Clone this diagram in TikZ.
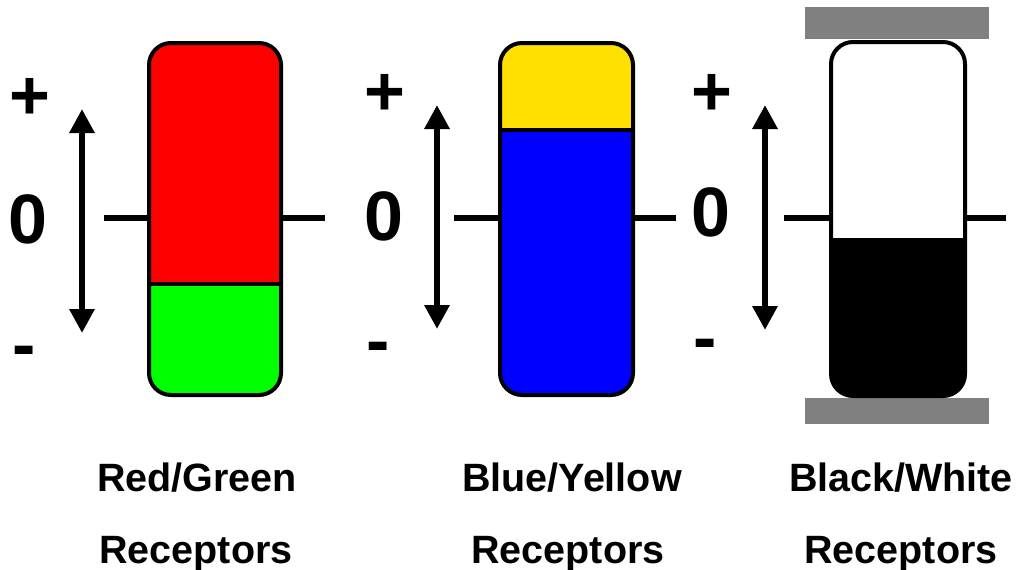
\documentclass[tikz,border=0pt]{standalone}
\usepackage{fontspec}
\setmainfont{Liberation Sans}
\usetikzlibrary{arrows.meta}
\definecolor{rgred}{HTML}{FF0000}
\definecolor{rggreen}{HTML}{00FF00}
\definecolor{byblue}{HTML}{0000FF}
\definecolor{byyellow}{HTML}{FFE000}
\definecolor{bwgray}{HTML}{808080}
\tikzset{
  sign/.style={font=\fontsize{70}{72}\selectfont\bfseries, inner sep=0pt, anchor=base},
  label/.style={font=\fontsize{39.5}{44}\selectfont\bfseries, inner sep=0pt, anchor=base},
  zeroline/.style={line width=6pt},
  barborder/.style={line width=4pt},
  scalearrow/.style={line width=6pt, {Triangle[width=24pt,length=24pt]}-{Triangle[width=24pt,length=24pt]}},
}
\begin{document}
\begin{tikzpicture}[x=1pt,y=-1pt]
\useasboundingbox (0,0) rectangle (1017,570);

% ---------- Panel 1: Red/Green ----------
\coordinate (l1a) at (104,218);
\coordinate (l1b) at (325,218);
\draw[zeroline] (l1a) -- (l1b);
\begin{scope}
\clip[rounded corners=22pt] (149,43) rectangle (281,395);
\fill[rgred] (149,43) rectangle (281,284);
\fill[rggreen] (149,284) rectangle (281,395);
\end{scope}
\coordinate (d1a) at (149,284);
\coordinate (d1b) at (281,284);
\draw[barborder] (d1a) -- (d1b);
\draw[barborder, rounded corners=22pt] (149,43) rectangle (281,395);
\coordinate (a1t) at (82,109);
\coordinate (a1b) at (82,333);
\draw[scalearrow] (a1b) -- (a1t);
\node[sign] (plus1) at (30,119) {+};
\node[sign] (zero1) at (28,243) {0};
\node[sign] (minus1) at (24,368) {-};
\node[label] (lab1a) at (197,491) {Red/Green};
\node[label] (lab1b) at (196,563) {Receptors};

% ---------- Panel 2: Blue/Yellow ----------
\coordinate (l2a) at (454,218);
\coordinate (l2b) at (676,218);
\draw[zeroline] (l2a) -- (l2b);
\begin{scope}
\clip[rounded corners=22pt] (500,43) rectangle (633,395);
\fill[byyellow] (500,43) rectangle (633,130);
\fill[byblue] (500,130) rectangle (633,395);
\end{scope}
\coordinate (d2a) at (500,130);
\coordinate (d2b) at (633,130);
\draw[barborder] (d2a) -- (d2b);
\draw[barborder, rounded corners=22pt] (500,43) rectangle (633,395);
\coordinate (a2t) at (437,105);
\coordinate (a2b) at (437,329);
\draw[scalearrow] (a2b) -- (a2t);
\node[sign] (plus2) at (385,115) {+};
\node[sign] (zero2) at (384,240) {0};
\node[sign] (minus2) at (378,364) {-};
\node[label] (lab2a) at (572,491) {Blue/Yellow};
\node[label] (lab2b) at (568,563) {Receptors};

% ---------- Panel 3: Black/White ----------
\fill[bwgray] (805,7) rectangle (989,39);
\fill[bwgray] (805,398) rectangle (989,424);
\coordinate (l3a) at (784,218);
\coordinate (l3b) at (1006,218);
\draw[zeroline] (l3a) -- (l3b);
\begin{scope}
\clip[rounded corners=22pt] (831,42) rectangle (965,396);
\fill[white] (831,42) rectangle (965,238);
\fill[black] (831,238) rectangle (965,396);
\end{scope}
\draw[barborder, rounded corners=22pt] (831,42) rectangle (965,396);
\coordinate (a3t) at (765,105);
\coordinate (a3b) at (765,330);
\draw[scalearrow] (a3b) -- (a3t);
\node[sign] (plus3) at (712,115) {+};
\node[sign] (zero3) at (711,236) {0};
\node[sign] (minus3) at (705,361) {-};
\node[label] (lab3a) at (901,491) {Black/White};
\node[label] (lab3b) at (901,563) {Receptors};
\end{tikzpicture}
\end{document}
